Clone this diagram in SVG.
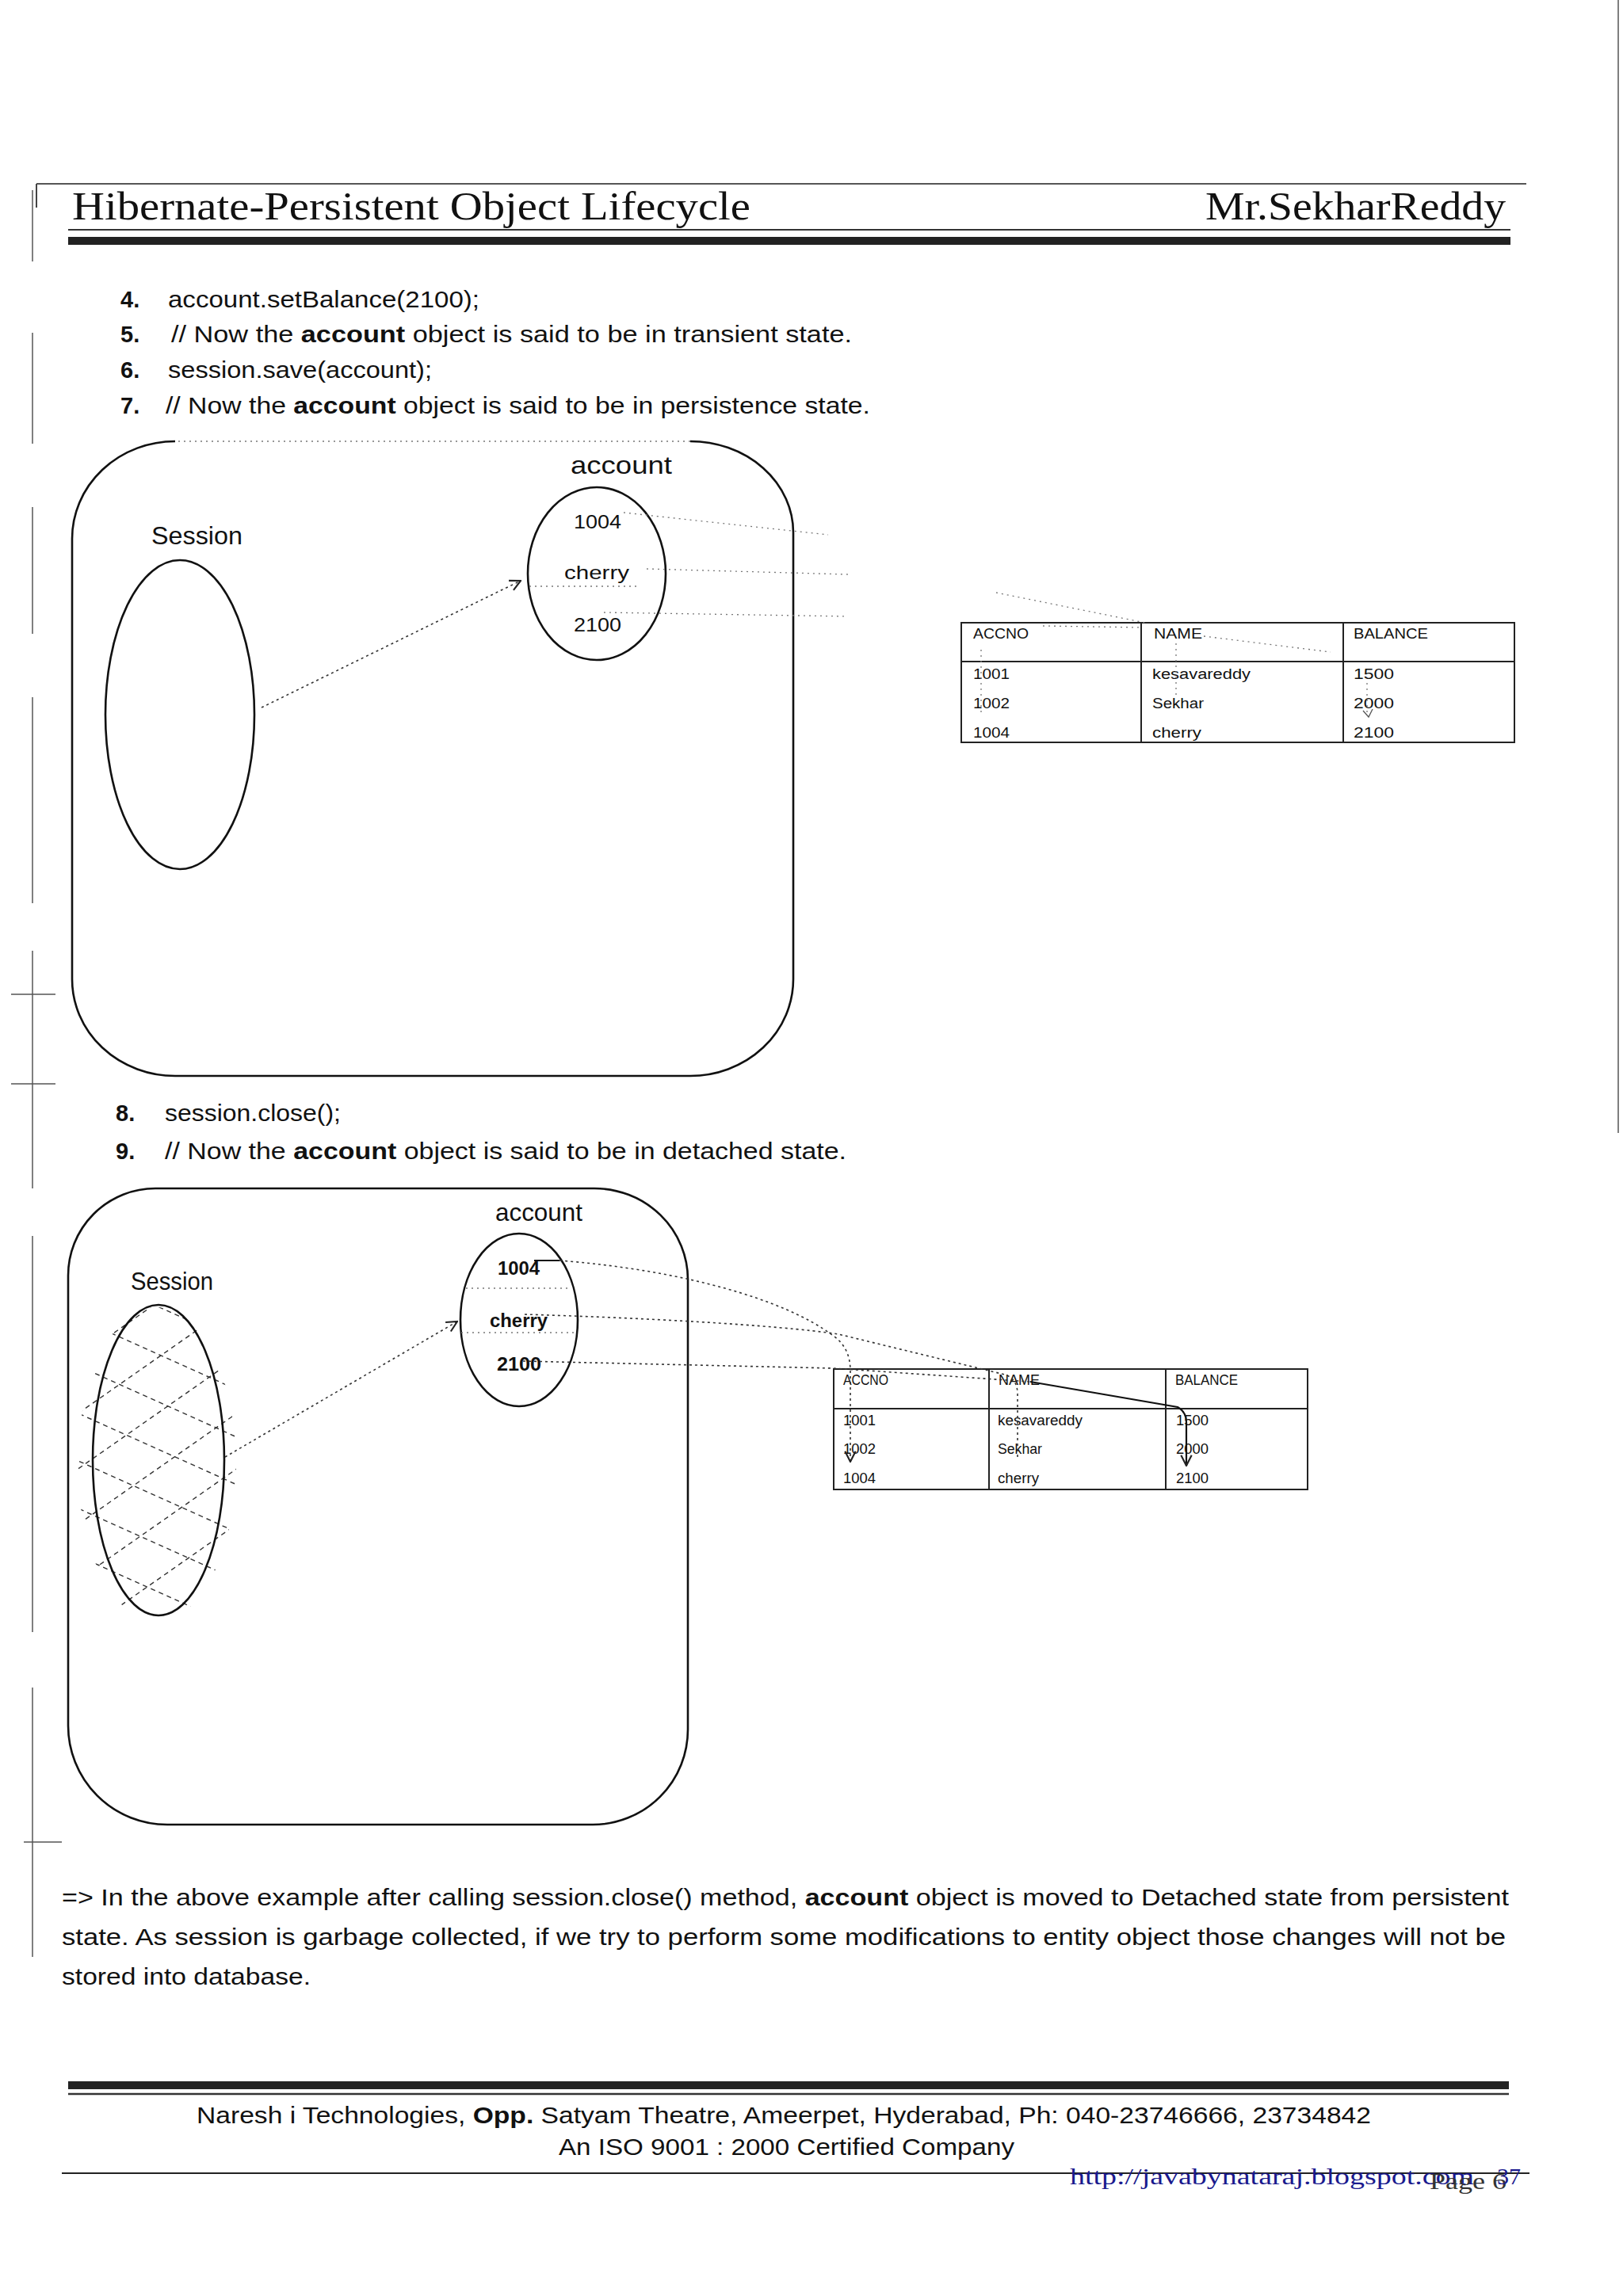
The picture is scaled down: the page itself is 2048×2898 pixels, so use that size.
<svg xmlns="http://www.w3.org/2000/svg" width="2048" height="2898" viewBox="0 0 2048 2898">
<style>
.t{font-family:"Liberation Sans",Arial,sans-serif;fill:#111}
.b{font-weight:bold}
.hdr{font-family:"Liberation Serif","Times New Roman",serif;font-size:50px;fill:#111}
.body{font-size:29px}
.lbl{font-size:32px}
.val{font-size:24px}
.tb{font-size:18px}
.dot{fill:none;stroke:#333;stroke-width:1.6;stroke-dasharray:3 4}
.fdot{fill:none;stroke:#777;stroke-width:1.3;stroke-dasharray:2 5}
.sol{fill:none;stroke:#111;stroke-width:2.6}
.grid{fill:none;stroke:#222;stroke-width:2}
.hatch{fill:none;stroke:#333;stroke-width:1.4;stroke-dasharray:6 5}
.scan{fill:none;stroke:#555;stroke-width:1.5}
</style>
<defs>
<marker id="arr" viewBox="0 0 12 12" refX="11" refY="6" markerWidth="16" markerHeight="16" orient="auto" markerUnits="userSpaceOnUse"><path d="M1,1 L11,6 L1,11" fill="none" stroke="#222" stroke-width="1.6"/></marker>
<clipPath id="sclip"><ellipse cx="198" cy="1848" rx="100" ry="198"/></clipPath>
</defs>
<rect width="2048" height="2898" fill="#fff"/>

<!-- scan margin artifacts -->
<g id="margins">
<path class="scan" d="M41,240 L41,330 M41,420 L41,560 M41,640 L41,800 M41,880 L41,1140 M41,1200 L41,1500 M41,1560 L41,2060 M41,2130 L41,2470"/>
<path class="scan" d="M14,1255 L70,1255 M14,1368 L70,1368 M30,2325 L78,2325 M2042,0 L2042,1430"/>
</g>

<!-- header -->
<g id="header">
<path d="M46,232 L1926,232" stroke="#555" stroke-width="1.8"/>
<path d="M46,232 L46,262" stroke="#444" stroke-width="2"/>
<text class="hdr" x="91" y="277" textLength="856" lengthAdjust="spacingAndGlyphs">Hibernate-Persistent Object Lifecycle</text>
<text class="hdr" x="1521" y="277" textLength="379" lengthAdjust="spacingAndGlyphs">Mr.SekharReddy</text>
<path d="M86,290 L1906,290" stroke="#333" stroke-width="2"/>
<rect x="86" y="299" width="1820" height="10" fill="#222"/>
</g>

<!-- code list -->
<g id="list1">
<text class="t body b" x="152" y="388">4.</text>
<text class="t body" x="212" y="388" textLength="393" lengthAdjust="spacingAndGlyphs">account.setBalance(2100);</text>
<text class="t body b" x="152" y="432">5.</text>
<text class="t body" x="216" y="432" textLength="859" lengthAdjust="spacingAndGlyphs">// Now the <tspan class="b">account</tspan> object is said to be in transient state.</text>
<text class="t body b" x="152" y="477">6.</text>
<text class="t body" x="212" y="477" textLength="333" lengthAdjust="spacingAndGlyphs">session.save(account);</text>
<text class="t body b" x="152" y="522">7.</text>
<text class="t body" x="209" y="522" textLength="889" lengthAdjust="spacingAndGlyphs">// Now the <tspan class="b">account</tspan> object is said to be in persistence state.</text>
</g>

<!-- diagram 1 -->
<g id="container1">
<path class="sol" d="M91,680 L91,1236 A130 122 0 0 0 221,1358 L871,1358 A130 122 0 0 0 1001,1236 L1001,672 A130 115 0 0 0 871,557"/>
<path class="fdot" d="M871,557 L221,557"/>
<path class="sol" d="M221,557 A130 123 0 0 0 91,680" stroke-width="2"/>
</g>
<g id="session1">
<ellipse class="sol" cx="227" cy="902" rx="94" ry="195"/>
<text class="t lbl" x="191" y="687" textLength="115" lengthAdjust="spacingAndGlyphs">Session</text>
</g>
<g id="account1">
<text class="t lbl" x="720" y="598" textLength="128" lengthAdjust="spacingAndGlyphs">account</text>
<ellipse class="sol" cx="753" cy="724" rx="87" ry="109"/>
<text class="t val" x="724" y="667" textLength="60" lengthAdjust="spacingAndGlyphs">1004</text>
<text class="t val" x="712" y="731" textLength="82" lengthAdjust="spacingAndGlyphs">cherry</text>
<text class="t val" x="724" y="797" textLength="60" lengthAdjust="spacingAndGlyphs">2100</text>
</g>
<g id="table1">
<path class="grid" d="M1213,786 L1911,786 L1911,937 L1213,937 Z M1213,835 L1911,835 M1440,786 L1440,937 M1695,786 L1695,937" stroke="#333"/>
<text class="t tb" x="1228" y="806" textLength="70" lengthAdjust="spacingAndGlyphs">ACCNO</text>
<text class="t tb" x="1456" y="806" textLength="61" lengthAdjust="spacingAndGlyphs">NAME</text>
<text class="t tb" x="1708" y="806" textLength="94" lengthAdjust="spacingAndGlyphs" fill="#444">BALANCE</text>
<text class="t tb" x="1228" y="857" textLength="46" lengthAdjust="spacingAndGlyphs">1001</text>
<text class="t tb" x="1454" y="857" textLength="124" lengthAdjust="spacingAndGlyphs">kesavareddy</text>
<text class="t tb" x="1708" y="857" textLength="51" lengthAdjust="spacingAndGlyphs">1500</text>
<text class="t tb" x="1228" y="894" textLength="46" lengthAdjust="spacingAndGlyphs">1002</text>
<text class="t tb" x="1454" y="894" textLength="65" lengthAdjust="spacingAndGlyphs">Sekhar</text>
<text class="t tb" x="1708" y="894" textLength="51" lengthAdjust="spacingAndGlyphs">2000</text>
<text class="t tb" x="1228" y="931" textLength="46" lengthAdjust="spacingAndGlyphs">1004</text>
<text class="t tb" x="1454" y="931" textLength="62" lengthAdjust="spacingAndGlyphs">cherry</text>
<text class="t tb" x="1708" y="931" textLength="51" lengthAdjust="spacingAndGlyphs">2100</text>
</g>

<!-- list 2 -->
<g id="list2">
<text class="t body b" x="146" y="1415">8.</text>
<text class="t body" x="208" y="1415" textLength="222" lengthAdjust="spacingAndGlyphs">session.close();</text>
<text class="t body b" x="146" y="1463">9.</text>
<text class="t body" x="208" y="1463" textLength="860" lengthAdjust="spacingAndGlyphs">// Now the <tspan class="b">account</tspan> object is said to be in detached state.</text>
</g>

<!-- diagram 2 -->
<g id="container2">
<path class="sol" d="M86,1610 L86,2178 A125 125 0 0 0 211,2303 L748,2303 A120 120 0 0 0 868,2183 L868,1615 A118 115 0 0 0 750,1500 L196,1500 A110 110 0 0 0 86,1610 Z"/>
</g>
<g id="session2">
<g clip-path="url(#sclip)">
<path class="hatch" d="M90,1600 L310,1699 M90,1660 L310,1759 M90,1720 L310,1819 M90,1780 L310,1879 M90,1840 L310,1939 M90,1900 L310,1999 M90,1960 L310,2059 M90,2020 L310,2119"/>
<path class="hatch" d="M90,1720 L310,1566 M90,1790 L310,1636 M90,1860 L310,1706 M90,1930 L310,1776 M90,2000 L310,1846 M90,2070 L310,1916 M90,2140 L310,1986 M90,2210 L310,2056"/>
</g>
<ellipse class="sol" cx="200" cy="1843" rx="83" ry="196"/>
<text class="t lbl" x="165" y="1628" textLength="104" lengthAdjust="spacingAndGlyphs">Session</text>
</g>
<g id="account2">
<text class="t lbl" x="625" y="1541" textLength="110" lengthAdjust="spacingAndGlyphs">account</text>
<ellipse class="sol" cx="655" cy="1666" rx="74" ry="109"/>
<path class="fdot" d="M588,1626 L718,1626 M582,1682 L726,1682" stroke="#333"/>
<text class="t val b" x="628" y="1609" textLength="53" lengthAdjust="spacingAndGlyphs">1004</text>
<text class="t val b" x="618" y="1675" textLength="73" lengthAdjust="spacingAndGlyphs">cherry</text>
<text class="t val b" x="627" y="1730" textLength="56" lengthAdjust="spacingAndGlyphs">2100</text>
</g>
<g id="table2">
<path class="grid" d="M1052,1728 L1650,1728 L1650,1880 L1052,1880 Z M1052,1778 L1650,1778 M1248,1728 L1248,1880 M1471,1728 L1471,1880" stroke="#111"/>
<text class="t tb" x="1064" y="1748" textLength="57" lengthAdjust="spacingAndGlyphs">ACCNO</text>
<text class="t tb" x="1260" y="1748" textLength="52" lengthAdjust="spacingAndGlyphs">NAME</text>
<text class="t tb" x="1483" y="1748" textLength="79" lengthAdjust="spacingAndGlyphs">BALANCE</text>
<text class="t tb" x="1064" y="1799" textLength="41" lengthAdjust="spacingAndGlyphs">1001</text>
<text class="t tb" x="1259" y="1799" textLength="107" lengthAdjust="spacingAndGlyphs">kesavareddy</text>
<text class="t tb" x="1484" y="1799" textLength="41" lengthAdjust="spacingAndGlyphs">1500</text>
<text class="t tb" x="1064" y="1835" textLength="41" lengthAdjust="spacingAndGlyphs">1002</text>
<text class="t tb" x="1259" y="1835" textLength="56" lengthAdjust="spacingAndGlyphs">Sekhar</text>
<text class="t tb" x="1484" y="1835" textLength="41" lengthAdjust="spacingAndGlyphs">2000</text>
<text class="t tb" x="1064" y="1872" textLength="41" lengthAdjust="spacingAndGlyphs">1004</text>
<text class="t tb" x="1259" y="1872" textLength="52" lengthAdjust="spacingAndGlyphs">cherry</text>
<text class="t tb" x="1484" y="1872" textLength="41" lengthAdjust="spacingAndGlyphs">2100</text>
</g>

<!-- connectors -->
<g id="connectors">
<path class="dot" d="M330,893 L657,733" marker-end="url(#arr)"/>
<path class="fdot" d="M787,647 L1045,675"/>
<path class="fdot" d="M816,718 L1070,725"/>
<path class="fdot" d="M762,773 L1070,778"/>
<path class="fdot" d="M668,740 L806,740"/>
<path class="fdot" d="M1257,748 L1445,786"/>
<path class="fdot" d="M1316,790 L1440,792"/>
<path class="fdot" d="M1519,803 L1679,823"/>
<path class="fdot" d="M1484,812 L1484,877"/>
<path class="fdot" d="M1238,820 L1238,900"/>
<path class="fdot" d="M1725,862 L1725,900"/>
<path d="M1720,897 L1727,905 L1732,895" fill="none" stroke="#555" stroke-width="1.3"/>

<path class="dot" d="M284,1839 L577,1668" marker-end="url(#arr)"/>
<path d="M674,1591 L706,1591" stroke="#111" stroke-width="2"/>
<path class="dot" d="M706,1591 C860,1603 990,1640 1050,1685 Q1073,1700 1073,1730 L1073,1845" marker-end="url(#arr)"/>
<path class="dot" d="M662,1659 C800,1663 980,1672 1058,1684 L1268,1735 Q1284,1740 1284,1760 L1284,1840"/>
<path class="dot" d="M660,1718 L1052,1727 L1300,1744"/>
<path d="M1300,1744 L1486,1776 Q1497,1782 1497,1795 L1497,1850" fill="none" stroke="#111" stroke-width="2.2" marker-end="url(#arr)"/>
</g>

<!-- paragraph -->
<g id="paragraph">
<text class="t body" x="78" y="2405" font-size="30" textLength="1826" lengthAdjust="spacingAndGlyphs">=&gt; In the above example after calling session.close() method, <tspan class="b">account</tspan> object is moved to Detached state from persistent</text>
<text class="t body" x="78" y="2455" font-size="30" textLength="1822" lengthAdjust="spacingAndGlyphs">state. As session is garbage collected, if we try to perform some modifications to entity object those changes will not be</text>
<text class="t body" x="78" y="2505" font-size="30" textLength="314" lengthAdjust="spacingAndGlyphs">stored into database.</text>
</g>

<!-- footer -->
<g id="footer">
<rect x="86" y="2627" width="1818" height="10" fill="#222"/>
<path d="M86,2643 L1904,2643" stroke="#333" stroke-width="2.5"/>
<text class="t" x="248" y="2680" font-size="29" textLength="1482" lengthAdjust="spacingAndGlyphs">Naresh i Technologies, <tspan class="b">Opp.</tspan> Satyam Theatre, Ameerpet, Hyderabad, Ph: 040-23746666, 23734842</text>
<text class="t" x="705" y="2720" font-size="29" textLength="575" lengthAdjust="spacingAndGlyphs">An ISO 9001 : 2000 Certified Company</text>
<path d="M78,2743 L1930,2743" stroke="#222" stroke-width="2"/>
<text x="1350" y="2757" font-family="Liberation Serif,Times New Roman,serif" font-size="30" fill="#1a1a8e" textLength="510" lengthAdjust="spacingAndGlyphs">http://javabynataraj.blogspot.com</text>
<text x="1804" y="2763" font-family="Liberation Serif,Times New Roman,serif" font-size="30" fill="#333" textLength="97" lengthAdjust="spacingAndGlyphs">Page 6</text>
<text x="1889" y="2757" font-family="Liberation Serif,Times New Roman,serif" font-size="30" fill="#1a1a8e">37</text>
</g>
</svg>
